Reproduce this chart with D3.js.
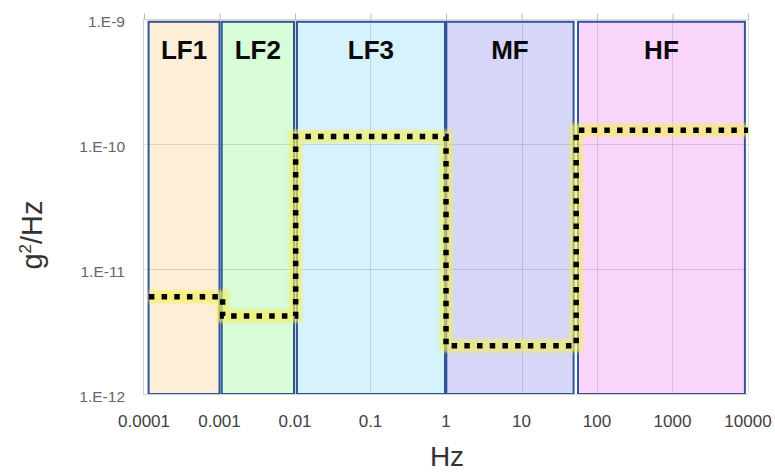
<!DOCTYPE html>
<html><head><meta charset="utf-8">
<script src="https://cdn.jsdelivr.net/npm/d3@7"></script>
<style>body{margin:0;background:#fff}svg{display:block}</style>
</head><body>
<svg id="chart" width="775" height="472"></svg>
<script>
// ---- data ----
const xTickValues = [1e-4, 1e-3, 1e-2, 1e-1, 1, 10, 100, 1000, 10000];
const xTickLabels = ["0.0001", "0.001", "0.01", "0.1", "1", "10", "100", "1000", "10000"];
const yTickValues = [1e-9, 1e-10, 1e-11, 1e-12];
const yTickLabels = ["1.E-9", "1.E-10", "1.E-11", "1.E-12"];

const bandNames = ["LF1", "LF2", "LF3", "MF", "HF"];
const bandLo = [1.15e-4, 1.07e-3, 1.06e-2, 1.01, 56];
const bandHi = [1.0e-3, 0.97e-2, 0.97, 49, 9100];
const bandTop = 0.95e-9;
const bandBottom = 1e-12;
const bandColors = ["#FDEFD7", "#D8FBD8", "#D6F2FC", "#D6D6F8", "#F9D5FC"];

const stepFreq = [1.16e-4, 1.1e-3, 1.02e-2, 1.0, 53, 1e4];
const stepLevel = [6.0e-12, 4.2e-12, 1.15e-10, 2.43e-12, 1.29e-10];

// ---- chart ----
const svg = d3.select("#chart");
const x = d3.scaleLog().domain([1e-4, 1e4]).range([144, 748]);
const y = d3.scaleLog().domain([1e-12, 1e-9]).range([394, 19]);

const defs = svg.append("defs");
defs.append("filter").attr("id", "glow").attr("x", "-10%").attr("y", "-10%").attr("width", "120%").attr("height", "120%")
  .append("feGaussianBlur").attr("stdDeviation", 1.8);

// band fills
svg.append("g").selectAll("rect").data(bandNames).join("rect")
  .attr("x", (d, i) => x(bandLo[i]))
  .attr("y", y(bandTop))
  .attr("width", (d, i) => x(bandHi[i]) - x(bandLo[i]))
  .attr("height", y(bandBottom) - y(bandTop))
  .attr("fill", (d, i) => bandColors[i]);

// gridlines
const grid = svg.append("g").attr("stroke", "#000").attr("stroke-opacity", 0.12).attr("stroke-width", 1);
grid.selectAll("line.h").data(yTickValues).join("line").attr("class", "h")
  .attr("x1", x.range()[0]).attr("x2", x.range()[1])
  .attr("y1", d => Math.round(y(d)) + 0.5).attr("y2", d => Math.round(y(d)) + 0.5);
grid.selectAll("line.v").data(xTickValues.slice(1)).join("line").attr("class", "v")
  .attr("y1", y.range()[0]).attr("y2", y.range()[1])
  .attr("x1", d => Math.round(x(d)) + 0.5).attr("x2", d => Math.round(x(d)) + 0.5);

// band borders
svg.append("g").selectAll("rect").data(bandNames).join("rect")
  .attr("x", (d, i) => x(bandLo[i]))
  .attr("y", y(bandTop))
  .attr("width", (d, i) => x(bandHi[i]) - x(bandLo[i]))
  .attr("height", y(bandBottom) - y(bandTop))
  .attr("fill", "none").attr("stroke", "#2F5597").attr("stroke-width", 2);

// band labels
svg.append("g").selectAll("text").data(bandNames).join("text")
  .attr("x", (d, i) => (x(bandLo[i]) + x(bandHi[i])) / 2)
  .attr("y", 59)
  .attr("text-anchor", "middle")
  .attr("font-family", "Liberation Sans, Arial, sans-serif")
  .attr("font-weight", "bold").attr("font-size", 26).attr("fill", "#0a0a0a")
  .text(d => d);

// axes lines
const axisColor = "#D0D0D0";
svg.append("line").attr("x1", 143.5).attr("x2", 143.5).attr("y1", 19).attr("y2", 395).attr("stroke", axisColor);
svg.append("line").attr("x1", 143).attr("x2", 748).attr("y1", 394.5).attr("y2", 394.5).attr("stroke", axisColor);

// top axis with minor log ticks
const topAxis = d3.axisTop(x).ticks(8).tickFormat("").tickSizeOuter(0).tickSize(4);
const gTop = svg.append("g").attr("transform", "translate(0,19.5)").call(topAxis);
gTop.select(".domain").attr("stroke", axisColor);
gTop.selectAll(".tick line").attr("stroke", "#BBBBBB")
  .attr("y2", d => (xTickValues.includes(d) ? -6 : -4));

// step line: glow + dotted
const stepData = stepFreq.map((f, i) => [f, stepLevel[Math.min(i, stepLevel.length - 1)]]);
const line = d3.line().x(d => x(d[0])).y(d => y(d[1])).curve(d3.curveStepAfter);
svg.append("path").datum(stepData).attr("d", line)
  .attr("fill", "none").attr("stroke", "#F4EE5A").attr("stroke-opacity", 0.65)
  .attr("stroke-width", 13).attr("filter", "url(#glow)");
svg.append("path").datum(stepData).attr("d", line)
  .attr("fill", "none").attr("stroke", "#000").attr("stroke-width", 5.5)
  .attr("stroke-dasharray", "5.5,7.2");

// x tick labels
svg.append("g").selectAll("text").data(xTickValues).join("text")
  .attr("x", d => x(d)).attr("y", 427)
  .attr("text-anchor", "middle")
  .attr("font-family", "Liberation Sans, Arial, sans-serif").attr("font-size", 17).attr("fill", "#404040")
  .text((d, i) => xTickLabels[i]);

// y tick labels
svg.append("g").selectAll("text").data(yTickValues).join("text")
  .attr("x", 125).attr("y", d => y(d) + 8)
  .attr("text-anchor", "end")
  .attr("font-family", "Liberation Sans, Arial, sans-serif").attr("font-size", 15.5).attr("fill", "#666")
  .text((d, i) => yTickLabels[i]);

// axis titles
svg.append("text").attr("x", 447).attr("y", 466).attr("text-anchor", "middle")
  .attr("font-family", "Liberation Sans, Arial, sans-serif").attr("font-size", 28).attr("fill", "#333").text("Hz");
const yt = svg.append("text").attr("transform", "translate(42,235) rotate(-90)").attr("text-anchor", "middle")
  .attr("font-family", "Liberation Sans, Arial, sans-serif").attr("font-size", 29).attr("fill", "#333");
yt.append("tspan").text("g");
yt.append("tspan").attr("font-size", 17).attr("dy", -11).text("2");
yt.append("tspan").attr("dy", 11).text("/Hz");
</script>
</body></html>
